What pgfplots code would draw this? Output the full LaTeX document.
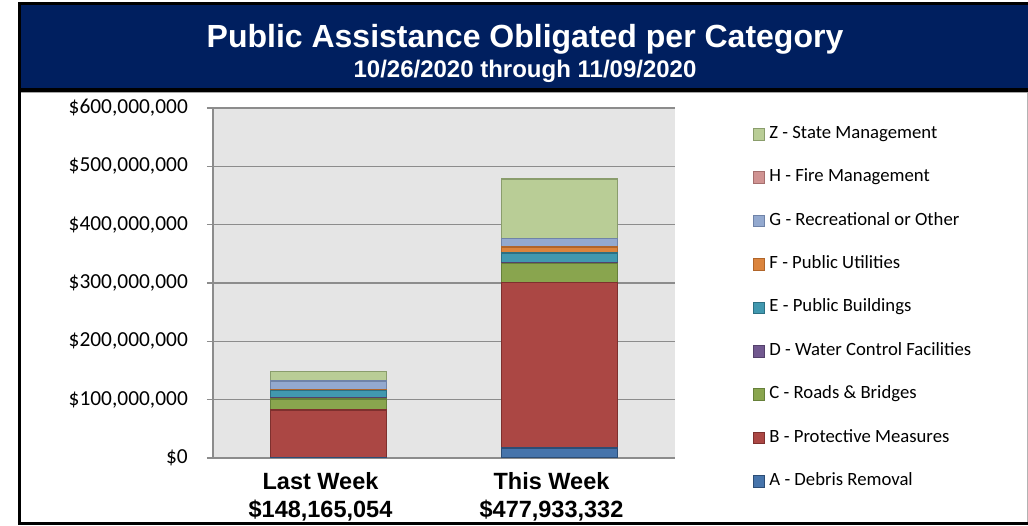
\documentclass[border=0pt]{standalone}
\usepackage{pgfplots}
\pgfplotsset{compat=1.18}
\usepackage{fontspec}
\setmainfont{Carlito}
\newfontfamily\arial{Liberation Sans}
\definecolor{navy}{HTML}{001F5F}
\definecolor{cA}{HTML}{4674AB}\definecolor{dA}{HTML}{2C4D75}
\definecolor{cB}{HTML}{AB4744}\definecolor{dB}{HTML}{7E302E}
\definecolor{cC}{HTML}{89A54E}\definecolor{dC}{HTML}{66803A}
\definecolor{cD}{HTML}{71588F}\definecolor{dD}{HTML}{54416B}
\definecolor{cE}{HTML}{4198AF}\definecolor{dE}{HTML}{2C7083}
\definecolor{cF}{HTML}{DB843D}\definecolor{dF}{HTML}{B0652A}
\definecolor{cG}{HTML}{93A9CF}\definecolor{dG}{HTML}{6F83A8}
\definecolor{cH}{HTML}{D09392}\definecolor{dH}{HTML}{A56F6E}
\definecolor{cZ}{HTML}{B9CD96}\definecolor{dZ}{HTML}{8A9D6C}
\definecolor{plotbg}{HTML}{E5E5E5}
\definecolor{gridc}{HTML}{8C8C8C}
\begin{document}
\begin{tikzpicture}[x=1pt,y=1pt]
\useasboundingbox (0,0) rectangle (1028,525);
% header
\fill[navy] (19.5,433) rectangle (1035,521);
\draw[black,line width=3.5pt] (19.5,1.5) -- (19.5,521.5) -- (1035,521.5);
\draw[black,line width=3.5pt] (17.75,1.75) -- (1035,1.75);
\draw[black,line width=4pt] (19.5,434.5) -- (1035,434.5);
\draw[gray!70,line width=1pt] (21,432) -- (1035,432);
\draw[gray!60,line width=1pt] (1027.5,3) -- (1027.5,432);
\node[white,anchor=base,inner sep=0pt,font=\arial\bfseries\fontsize{32}{36}\selectfont] at (525,477) {Public Assistance Obligated per Category};
\node[white,anchor=base,inner sep=0pt,font=\arial\bfseries\fontsize{24}{27}\selectfont] at (525,447) {10/26/2020 through 11/09/2020};
\begin{axis}[
  at={(213pt,67pt)}, anchor=south west,
  scale only axis, width=462pt, height=350pt,
  ybar stacked, bar width=116pt,
  xmin=-0.5, xmax=1.5, ymin=0, ymax=600,
  axis lines=left, axis line style={gridc, line width=1.5pt, -},
  axis background/.style={fill=plotbg},
  xtick={0,1},
  xticklabels={{Last Week\\\$148,165,054},{This Week\\\$477,933,332}},
  xticklabel style={align=center, inner sep=0pt, yshift=-8pt, xshift=-8pt,
    font=\arial\bfseries\fontsize{23.5}{28}\selectfont},
  x tick style={draw=none},
  ytick={0,100,200,300,400,500,600},
  yticklabels={{\$0},{\$100,000,000},{\$200,000,000},{\$300,000,000},{\$400,000,000},{\$500,000,000},{\$600,000,000}},
  yticklabel style={font=\fontsize{21.4}{25}\selectfont, inner sep=0pt, anchor=east, xshift=-19pt},
  y tick style={gridc, line width=1.5pt},
  tick align=outside, major tick length=6pt,
  ymajorgrids, grid style={gridc, line width=1.5pt},
  reverse legend,
  legend image code/.code={\draw[#1,line width=1pt] (0pt,-5.75pt) rectangle (11.5pt,5.75pt);},
  legend style={at={(1.1688,0.429)}, anchor=west, draw=none, fill=none,
    inner sep=0pt, outer sep=0pt, row sep=27.4pt, column sep=4pt,
    font=\fontsize{18.7}{22}\selectfont,
    nodes={inner sep=0pt, text height=12pt, text depth=4pt, anchor=west}},
  legend cell align=left,
]
\addplot[fill=cA, draw=dA, line width=1.5pt] coordinates {(0,0.4) (1,17.0)};
\addlegendentry{A - Debris Removal}
\addplot[fill=cB, draw=dB, line width=1.5pt] coordinates {(0,81.8) (1,284.0)};
\addlegendentry{B - Protective Measures}
\addplot[fill=cC, draw=dC, line width=1.5pt] coordinates {(0,18.9) (1,32.6)};
\addlegendentry{C - Roads \& Bridges}
\addplot[fill=cD, draw=dD, line width=1.5pt] coordinates {(0,2.2) (1,1.7)};
\addlegendentry{D - Water Control Facilities}
\addplot[fill=cE, draw=dE, line width=1.5pt] coordinates {(0,12.0) (1,16.0)};
\addlegendentry{E - Public Buildings}
\addplot[fill=cF, draw=dF, line width=1.5pt] coordinates {(0,1.7) (1,10.3)};
\addlegendentry{F - Public Utilities}
\addplot[fill=cG, draw=dG, line width=1.5pt] coordinates {(0,15.4) (1,14.3)};
\addlegendentry{G - Recreational or Other}
\addplot[fill=cH, draw=dH, line width=1.5pt] coordinates {(0,0.3) (1,0.6)};
\addlegendentry{H - Fire Management}
\addplot[fill=cZ, draw=dZ, line width=1.5pt] coordinates {(0,15.5) (1,101.4)};
\addlegendentry{Z - State Management}
\end{axis}
\end{tikzpicture}
\end{document}
